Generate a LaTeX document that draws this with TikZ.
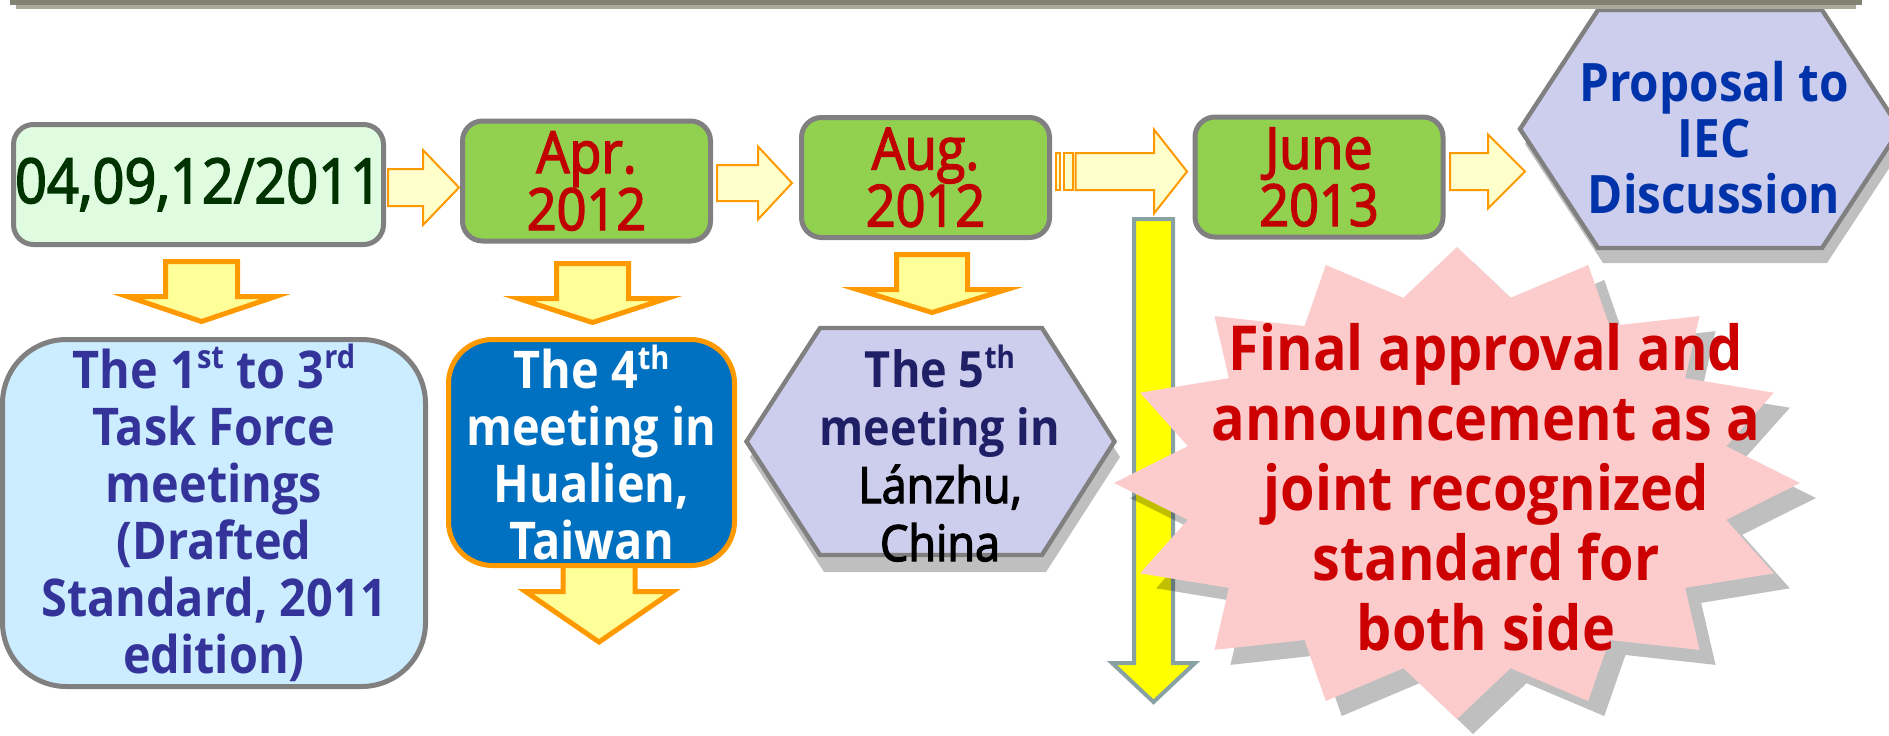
\documentclass[tikz,border=0pt]{standalone}
\usepackage{fontspec}
\usepackage{graphicx}
\setmainfont{Open Sans}[FakeStretch=0.9]
\newfontfamily\medfont{Open Sans}[FakeStretch=0.9,FakeBold=2.5]
\definecolor{boxgray}{HTML}{808080}
\definecolor{paleg}{HTML}{E0FCE0}
\definecolor{dgreen}{HTML}{003300}
\definecolor{lgreen}{HTML}{92D050}
\definecolor{dred}{HTML}{C00000}
\definecolor{arrfill}{HTML}{FFFFCC}
\definecolor{arrfilltwo}{HTML}{FFFF99}
\definecolor{orng}{HTML}{FF9900}
\definecolor{lblue}{HTML}{CCECFF}
\definecolor{navyt}{HTML}{333399}
\definecolor{mblue}{HTML}{0070C0}
\definecolor{lav}{HTML}{CDCDEE}
\definecolor{iecblue}{HTML}{0033AA}
\definecolor{dnavy}{HTML}{1F1F66}
\definecolor{yarrow}{HTML}{FFFF00}
\definecolor{yedge}{HTML}{88A2A4}
\definecolor{starpink}{HTML}{FCCCCC}
\definecolor{sred}{HTML}{CC0000}
\definecolor{barc}{HTML}{828272}
\definecolor{barsh}{HTML}{ABAB9D}
\newcommand\sups[1]{\raisebox{0.38em}{\scalebox{0.62}{#1}}}
\newcommand\rblock[7][]{%
  \draw[rarr,#1] (#2,#5-#6) -- (#3,#5-#6) -- (#3,#5-#7) -- (#4,#5) -- (#3,#5+#7) -- (#3,#5+#6) -- (#2,#5+#6) -- cycle;}
\newcommand\dblock[7][]{%
  \draw[darr,#1] (#2-#6,#3) -- (#2+#6,#3) -- (#2+#6,#4) -- (#2+#7,#4) -- (#2,#5) -- (#2-#7,#4) -- (#2-#6,#4) -- cycle;}
\begin{document}
\begin{tikzpicture}[x=0.5pt,y=-0.5pt,
  rarr/.style={fill=arrfill, draw=orng, line width=1pt, line join=miter},
  darr/.style={fill=arrfilltwo, draw=orng, line width=2.5pt, line join=miter},
  tbox/.style={draw=boxgray, line width=2.5pt, rounded corners=10pt, fill=lgreen, text=dred,
    minimum width=124pt, minimum height=60pt, inner sep=0pt, align=center,
    font=\medfont\fontsize{29pt}{28.5pt}\selectfont},
  hexshape/.style={fill=lav, draw=boxgray, line width=2.2pt, line join=miter},
  shadowfill/.style={fill=black, fill opacity=0.25},
  txt/.style={inner sep=0pt, align=center}]
\useasboundingbox (0,0) rectangle (1889,735);
\clip (0,0) rectangle (1889,735);

% proposal hexagon (top right)
\fill[shadowfill] (1603,25) -- (1827,25) -- (1905,144) -- (1827,263) -- (1603,263) -- (1525,144) -- cycle;
\draw[hexshape] (1598,10) -- (1822,10) -- (1900,129) -- (1822,248) -- (1598,248) -- (1520,129) -- cycle;
\node[txt, text=iecblue, font=\bfseries\fontsize{26.5pt}{28pt}\selectfont] (iec) at (1714,138) {Proposal to\\IEC\\Discussion};

% top bar
\fill[barsh] (16,4) rectangle (1856,9);
\fill[barc] (10,0) rectangle (1862,5);

% right block arrows
\rblock{388}{423}{459}{187.5}{18.5}{37.5}
\rblock{717}{758}{792}{183}{18}{36.5}
\draw[rarr] (1055.5,153) rectangle (1060,190);
\draw[rarr] (1064,153) rectangle (1073,190);
\rblock{1075.5}{1154}{1187}{171.5}{18.5}{42}
\rblock{1450}{1488}{1525}{171.5}{18.5}{37}

% top boxes
\node[tbox, fill=paleg, text=dgreen, minimum width=185pt, font=\medfont\fontsize{31pt}{31pt}\selectfont] (b1) at (198.5,184.5) {04,09,12/2011};
\node[tbox] (b2) at (586.5,181) {Apr.\\2012};
\node[tbox] (b3) at (925.5,177.5) {Aug.\\2012};
\node[tbox] (b4) at (1319,177) {June\\2013};

% down arrows
\dblock{201.5}{261.5}{296.5}{321.5}{36}{74}
\dblock{592.5}{263.5}{298.5}{322.5}{36}{74}
\dblock{932}{254.5}{289.5}{312.5}{35.5}{74.5}
\dblock{599}{560}{591.5}{642}{36}{73.5}

% bottom left box
\node[draw=boxgray, line width=2.5pt, rounded corners=32pt, fill=lblue, text=navyt,
  minimum width=211.5pt, minimum height=173.5pt, inner sep=0pt, align=center,
  font=\bfseries\fontsize{26pt}{28.5pt}\selectfont] (m13) at (214,513)
  {The 1\sups{st} to 3\sups{rd}\\Task Force\\meetings\\(Drafted\\Standard, 2011\\edition)};

% 4th meeting box
\node[draw=orng, line width=2.5pt, rounded corners=22pt, fill=mblue, text=white,
  minimum width=143pt, minimum height=113pt, inner sep=0pt, align=center,
  font=\bfseries\fontsize{26pt}{28.5pt}\selectfont] (m4) at (591.5,452.5)
  {The 4\sups{th}\\meeting in\\Hualien,\\Taiwan};

% 5th meeting hexagon
\fill[shadowfill] (824,344) -- (1046,344) -- (1120,457) -- (1046,572) -- (824,572) -- (750,457) -- cycle;
\draw[hexshape] (820,328) -- (1042,328) -- (1114.5,441.5) -- (1042,555) -- (820,555) -- (746.5,441.5) -- cycle;
\node[txt, font=\fontsize{25pt}{29pt}\selectfont] (m5) at (940,453)
  {\textcolor{dnavy}{\bfseries The 5\sups{th}}\\\textcolor{dnavy}{\bfseries meeting in}\\{\medfont Lánzhu,}\\{\medfont China}};

% long yellow arrow
\draw[fill=yarrow, draw=yedge, line width=2pt, line join=miter] (1134,219) -- (1173,219) -- (1173,663) -- (1195,663) -- (1153.5,702) -- (1112,663) -- (1134,663) -- cycle;

% star burst
\fill[shadowfill] (1473,262) \foreach \i in {1,...,31}{ -- ({1473+343*(1-0.2*mod(\i,2))*cos(90-11.25*\i)},{498-236*(1-0.2*mod(\i,2))*sin(90-11.25*\i)}) } -- cycle;
\fill[starpink] (1457,247) \foreach \i in {1,...,31}{ -- ({1457+343*(1-0.2*mod(\i,2))*cos(90-11.25*\i)},{483-236*(1-0.2*mod(\i,2))*sin(90-11.25*\i)}) } -- cycle;
\node[txt, text=sred, font=\bfseries\fontsize{31pt}{35pt}\selectfont] (fin) at (1486,487)
  {Final approval and\\announcement as a\\joint recognized\\standard for\\both side};
\end{tikzpicture}
\end{document}
